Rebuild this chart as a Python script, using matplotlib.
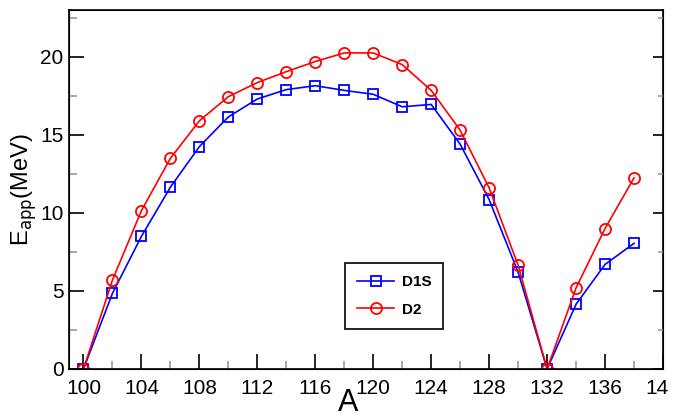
import numpy as np
import matplotlib.pyplot as plt
from matplotlib.transforms import Bbox

plt.rcParams['font.family'] = ['Liberation Sans', 'DejaVu Sans']

A = [100, 102, 104, 106, 108, 110, 112, 114, 116, 118,
     120, 122, 124, 126, 128, 130, 132, 134, 136, 138]
d1s = [0.0, 4.85, 8.5, 11.65, 14.25, 16.15, 17.3, 17.9, 18.15, 17.85,
       17.6, 16.8, 16.95, 14.4, 10.85, 6.2, 0.0, 4.15, 6.7, 8.05]
d2 = [0.0, 5.7, 10.15, 13.5, 15.9, 17.45, 18.35, 19.05, 19.7, 20.25,
      20.25, 19.5, 17.85, 15.3, 11.6, 6.65, 0.0, 5.2, 9.0, 12.25]
xticks = [100, 104, 108, 112, 116, 120, 124, 128, 132, 136, 140]
yticks = [0, 5, 10, 15, 20]
yminor = [2.5, 7.5, 12.5, 17.5, 22.5]

fig = plt.figure(figsize=(6.85, 4.17), dpi=100)
ax = fig.add_axes([69 / 685, 48 / 417, 594 / 685, 359 / 417])

ax.plot(A, d1s, color='blue', lw=1.2, marker='s', ms=7, mfc='none',
        mec='blue', mew=1.3, label='D1S')
ax.plot(A, d2, color='red', lw=1.2, marker='o', ms=8, mfc='none',
        mec='red', mew=1.3, label='D2')

ax.set_xlim(99, 140)
ax.set_ylim(0, 23)
ax.set_xticks(xticks)
ax.set_xticks(np.arange(102, 140, 4), minor=True)
ax.set_yticks(yticks)
ax.set_yticks(yminor, minor=True)
ax.tick_params(which='both', direction='in', labelsize=15, width=1.2)
ax.tick_params(which='major', length=11)
ax.tick_params(which='minor', length=6, color='0.6')
ax.tick_params(axis='x', pad=7)
ax.tick_params(axis='y', pad=4)
for s in ax.spines.values():
    s.set_linewidth(1.2)

# right-hand ticks are shorter than the left ones
ax2 = ax.twinx()
ax2.set_ylim(0, 23)
ax2.set_yticks(yticks)
ax2.set_yticks(yminor, minor=True)
ax2.tick_params(which='both', direction='in', labelright=False, width=1.2)
ax2.tick_params(which='major', length=7.5)
ax2.tick_params(which='minor', length=3.5, color='0.6')

# last tick label is cut off in the original
lab = ax.xaxis.get_major_ticks()[-1].label1
lab.set_clip_on(True)
lab.set_clip_box(Bbox([[0, 0], [668, 417]]))

ax.set_xlabel('A', fontsize=22, va='top')
ax.xaxis.set_label_coords(0.47, -0.052)
ax.set_ylabel(r'E$_{\rm app}$(MeV)', fontsize=17)
ax.yaxis.set_label_coords(-0.05, 0.5)

leg = ax.legend(loc='lower left', bbox_to_anchor=(0.4646, 0.1114),
                borderaxespad=0, fancybox=False, edgecolor='black',
                framealpha=1, prop={'weight': 'bold', 'size': 11},
                handlelength=2.4, handletextpad=0.5,
                borderpad=0.8, labelspacing=0.9)
leg.get_frame().set_linewidth(1.2)

fig.savefig('out.png', dpi=100)
